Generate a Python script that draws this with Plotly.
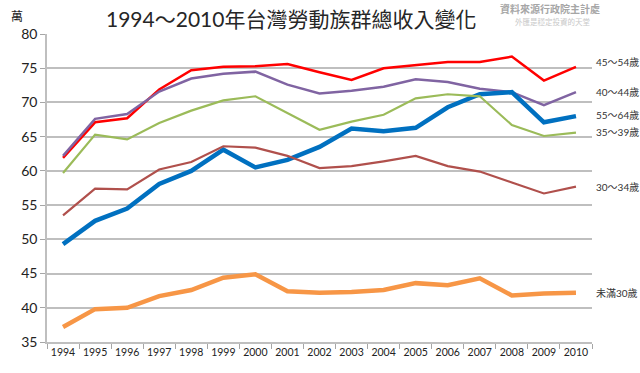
import plotly.graph_objects as go

years = [str(y) for y in range(1994, 2011)]

age_45_54 = [61.9, 67.1, 67.7, 71.9, 74.7, 75.2, 75.3, 75.6, 74.4, 73.3, 75.0, 75.5, 75.9, 75.9, 76.7, 73.2, 75.2]
age_40_44 = [62.2, 67.6, 68.3, 71.6, 73.5, 74.2, 74.5, 72.6, 71.3, 71.7, 72.3, 73.4, 73.0, 72.0, 71.5, 69.6, 71.5]
age_55_64 = [49.3, 52.7, 54.5, 58.1, 60.0, 63.1, 60.5, 61.6, 63.5, 66.2, 65.8, 66.3, 69.3, 71.2, 71.5, 67.1, 68.0]
age_35_39 = [59.7, 65.3, 64.6, 67.0, 68.8, 70.3, 70.9, 68.4, 66.0, 67.2, 68.2, 70.6, 71.2, 70.9, 66.7, 65.1, 65.6]
age_30_34 = [53.5, 57.4, 57.3, 60.2, 61.3, 63.6, 63.4, 62.2, 60.4, 60.7, 61.4, 62.2, 60.7, 59.9, 58.3, 56.7, 57.7]
age_u30 = [37.2, 39.8, 40.0, 41.7, 42.6, 44.4, 44.9, 42.4, 42.2, 42.3, 42.6, 43.6, 43.3, 44.3, 41.8, 42.1, 42.2]

series_names = ["45～54歲", "40～44歲", "55～64歲", "35～39歲", "30～34歲", "未滿30歲"]
series_values = [age_45_54, age_40_44, age_55_64, age_35_39, age_30_34, age_u30]

title_text = "1994～2010年台灣勞動族群總收入變化"
unit_text = "萬"
source_text = "資料來源行政院主計處"
slogan_text = "外匯是穩定投資的天堂"

colors = ["#ff0000", "#8064a2", "#0070c0", "#9bbb59", "#b0504c", "#f79646"]
widths = [2.5, 2.5, 4.5, 2.2, 2.2, 4.5]
label_shift = [5, 0, 1, 1, 0, 0]

font_fam = "Lato, 'Noto Sans CJK TC', sans-serif"

fig = go.Figure()
for name, vals, c, w in zip(series_names, series_values, colors, widths):
    fig.add_trace(go.Scatter(x=years, y=vals, mode="lines", name=name,
                             line=dict(color=c, width=w), showlegend=False))

for name, vals, s in zip(series_names, series_values, label_shift):
    fig.add_annotation(x=1.0, xref="paper", y=vals[-1], yref="y", text=name,
                       showarrow=False, xanchor="left", xshift=2, yshift=s,
                       font=dict(family=font_fam, size=10, color="#333333"))

fig.add_annotation(x=0.448, xref="paper", y=1.0, yref="paper", yanchor="bottom", yshift=1,
                   text=title_text, showarrow=False,
                   font=dict(family=font_fam, size=21, color="#262626"))
fig.add_annotation(x=0, xref="paper", y=1.0, yref="paper", xanchor="left", yanchor="bottom",
                   xshift=-38, yshift=8, text=unit_text, showarrow=False,
                   font=dict(family=font_fam, size=12, color="#222222"))
fig.add_annotation(x=1.0, xref="paper", y=1.0, yref="paper", xanchor="right", yanchor="bottom",
                   xshift=10, yshift=17, text="<b>" + source_text + "</b>", showarrow=False,
                   font=dict(family=font_fam, size=10, color="#a6a6a6"))
fig.add_annotation(x=1.0, xref="paper", y=1.0, yref="paper", xanchor="right", yanchor="bottom",
                   xshift=0, yshift=5, text=slogan_text, showarrow=False,
                   font=dict(family=font_fam, size=7.5, color="#c8c8c8"))

fig.update_layout(
    width=640, height=373,
    margin=dict(l=47, r=48, t=34, b=31),
    paper_bgcolor="white", plot_bgcolor="white",
    font=dict(family=font_fam, color="#222222"),
)

fig.update_xaxes(type="category", range=[-0.5, 16.5], tickson="boundaries",
                 ticks="outside", ticklen=5, tickcolor="#a6a6a6", tickangle=0,
                 showline=True, linecolor="#bfbfbf", linewidth=1.5,
                 showgrid=False, tickfont=dict(size=10.5, color="#222222"))
fig.update_yaxes(range=[35, 80], dtick=5, showgrid=True, gridcolor="#bfbfbf", gridwidth=1.5,
                 showline=True, linecolor="#bfbfbf", linewidth=1.5,
                 ticks="outside", ticklen=5, tickcolor="#a6a6a6", zeroline=False,
                 tickfont=dict(size=14, color="#222222"))

fig.write_html("out.html", config={"displayModeBar": False},
               post_script="document.body.style.margin='0';")
